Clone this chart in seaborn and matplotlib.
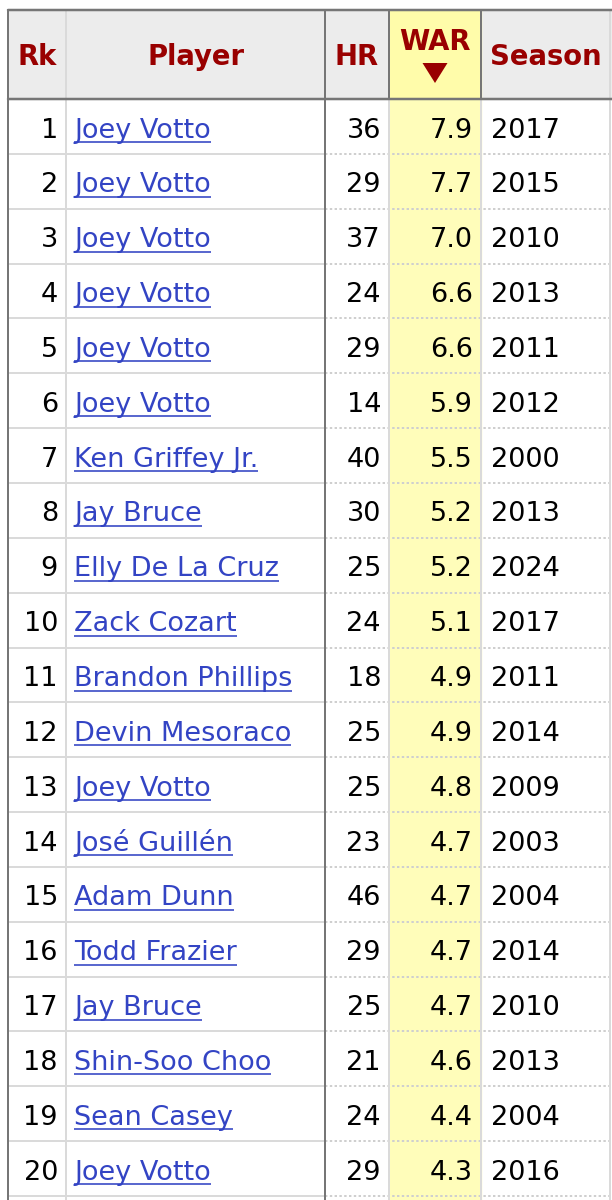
"""
Reds single-season WAR leaders table, redrawn with matplotlib + seaborn.
"""
import matplotlib
matplotlib.use("Agg")
import matplotlib.pyplot as plt
import seaborn as sns

sns.set_theme(style="white")
plt.rcParams["font.family"] = ["DejaVu Sans"]

# ---------- Data ----------
columns = ["Rk", "Player", "HR", "WAR", "Season"]
ranks = list(range(1, 21))
players = [
    "Joey Votto", "Joey Votto", "Joey Votto", "Joey Votto", "Joey Votto",
    "Joey Votto", "Ken Griffey Jr.", "Jay Bruce", "Elly De La Cruz",
    "Zack Cozart", "Brandon Phillips", "Devin Mesoraco", "Joey Votto",
    "José Guillén", "Adam Dunn", "Todd Frazier", "Jay Bruce",
    "Shin-Soo Choo", "Sean Casey", "Joey Votto",
]
home_runs = [36, 29, 37, 24, 29, 14, 40, 30, 25, 24,
             18, 25, 25, 23, 46, 29, 25, 21, 24, 29]
war = [7.9, 7.7, 7.0, 6.6, 6.6, 5.9, 5.5, 5.2, 5.2, 5.1,
       4.9, 4.9, 4.8, 4.7, 4.7, 4.7, 4.7, 4.6, 4.4, 4.3]
seasons = [2017, 2015, 2010, 2013, 2011, 2012, 2000, 2013, 2024, 2017,
           2011, 2014, 2009, 2003, 2004, 2014, 2010, 2013, 2004, 2016]

# ---------- Layout (pixels) ----------
W, H = 612, 1200
col_edges = [8, 66, 325, 389, 481, 610]
head_top, head_bot = 10, 99
row_h = 54.85

DARK = "#767676"
LIGHT = "#dadada"
DOTS = "#cfcfcf"
HEAD_BG = "#ececec"
HEAD_FG = "#990000"
YELLOW = "#fffdba"
YELLOW_HEAD = "#fffcaa"
LINK = "#3344c4"
PX = 0.72  # one pixel in points at dpi 100

fig = plt.figure(figsize=(W / 100, H / 100), dpi=100)
ax = fig.add_axes([0, 0, 1, 1])
ax.set_xlim(0, W)
ax.set_ylim(H, 0)
ax.axis("off")

n = len(ranks)
body_bot = H

# backgrounds
ax.add_patch(plt.Rectangle((col_edges[0], head_top), W - col_edges[0],
                           head_bot - head_top, color=HEAD_BG, zorder=0))
ax.add_patch(plt.Rectangle((col_edges[3], head_top), col_edges[4] - col_edges[3],
                           head_bot - head_top, color=YELLOW_HEAD, zorder=0))
ax.add_patch(plt.Rectangle((col_edges[3], head_bot), col_edges[4] - col_edges[3],
                           body_bot - head_bot, color=YELLOW, zorder=0))

# row separators: solid on the left block, dotted on the stat columns
for i in range(n):
    y = head_bot + (i + 1) * row_h
    ax.plot([col_edges[0], col_edges[2]], [y, y], color=LIGHT,
            lw=2 * PX, zorder=1, solid_capstyle="butt")
    ax.plot([col_edges[2], col_edges[5]], [y, y], color=DOTS, lw=2 * PX,
            zorder=1, linestyle=(0, (1.2, 1.2)))

# vertical lines
for j, x in enumerate(col_edges):
    dark_body = j in (0, 2)
    dark_head = j in (0, 2, 3, 4)
    ax.plot([x, x], [head_top, head_bot], color=DARK if dark_head else LIGHT,
            lw=2 * PX, zorder=2 if dark_head else 1)
    ax.plot([x, x], [head_bot, body_bot], color=DARK if dark_body else LIGHT,
            lw=2 * PX, zorder=2 if dark_body else 1)

# top and header-bottom borders
ax.plot([col_edges[0], W], [head_top, head_top], color=DARK, lw=2.5 * PX, zorder=3)
ax.plot([col_edges[0], W], [head_bot, head_bot], color=DARK, lw=2.5 * PX, zorder=3)

# header text
head_fs = 19.8
centers = [(a + b) / 2 for a, b in zip(col_edges[:-1], col_edges[1:])]
for name, cx in zip(columns, centers):
    yb = 50 if name == "WAR" else 65
    ax.text(cx, yb, name, ha="center", va="baseline", fontsize=head_fs,
            fontweight="bold", color=HEAD_FG, zorder=4)
wx = centers[3]
ax.fill([wx - 12.5, wx + 12.5, wx], [63, 63, 83], color=HEAD_FG, zorder=4,
        lw=0)

# body text
body_fs = 19.5
renderer = fig.canvas.get_renderer()
inv = ax.transData.inverted()
for i in range(n):
    yb = head_bot + i * row_h + 38.5
    ax.text(col_edges[1] - 8, yb, str(ranks[i]), ha="right", va="baseline",
            fontsize=body_fs, color="black")
    t = ax.text(col_edges[1] + 8, yb, players[i], ha="left", va="baseline",
                fontsize=body_fs, color=LINK)
    bb = t.get_window_extent(renderer)
    (x0, _), (x1, _) = inv.transform([[bb.x0, bb.y0], [bb.x1, bb.y1]])
    ax.plot([x0, x1], [yb + 4.5, yb + 4.5], color=LINK, lw=1.6 * PX,
            solid_capstyle="butt")
    ax.text(col_edges[3] - 8, yb, str(home_runs[i]), ha="right", va="baseline",
            fontsize=body_fs, color="black")
    ax.text(col_edges[4] - 8, yb, f"{war[i]:.1f}", ha="right", va="baseline",
            fontsize=body_fs, color="black")
    ax.text(col_edges[4] + 10, yb, str(seasons[i]), ha="left", va="baseline",
            fontsize=body_fs, color="black")

fig.savefig("out.png", dpi=100)
